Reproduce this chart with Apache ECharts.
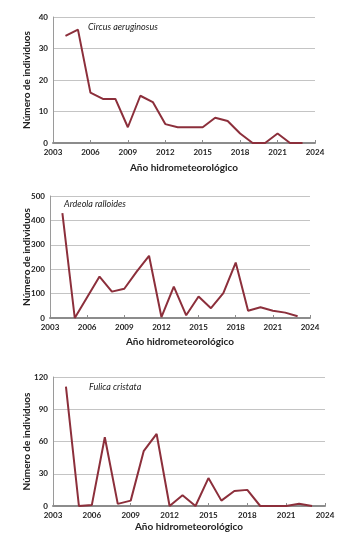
<!DOCTYPE html>
<html><head><meta charset="utf-8">
<script src="https://cdn.jsdelivr.net/npm/echarts@6/dist/echarts.min.js"></script>
<style>html,body{margin:0;padding:0;background:#fff}#c{width:338px;height:538px}</style>
</head><body><div id="c"></div>
<script>
const years = [2004,2005,2006,2007,2008,2009,2010,2011,2012,2013,2014,2015,2016,2017,2018,2019,2020,2021,2022,2023];
const xTicks = [2003,2006,2009,2012,2015,2018,2021,2024];
const circus = [34,36,16,14,14,5,15,13,6,5,5,5,8,7,3,0,0,3,0,0];
const ardeola = [430,0,85,170,108,120,190,255,4,129,11,88,40,102,227,30,44,30,22,7];
const fulica = [111,0,1,64,2,5,51,67,0,10,0,26,5,14,15,0,0,0,2,0];
const species = ['Circus aeruginosus','Ardeola ralloides','Fulica cristata'];
const yMax = [40,500,120];
const yStep = [10,100,30];
const xTitle = 'Año hidrometeorológico';
const yTitle = 'Número de individuos';

const grids = [
  {left:53, top:17, width:262, height:126},
  {left:50, top:196, width:260, height:122},
  {left:53, top:377, width:272, height:129}
];
const nameGaps = [20,19,16];
const yNameGaps = [21,18,21];
const series = [circus, ardeola, fulica];
const labelPos = [[88,29],[64,206],[89,389]];
const font = 'Lato';
const opt = {
  animation:false,
  grid: grids,
  xAxis: grids.map((g,i)=>({
    type:'value', gridIndex:i, min:2003, max:2024, interval:3,
    axisLine:{lineStyle:{color:'#8c8c8c', width:2}},
    axisTick:{show:true, inside:true, length:3, lineStyle:{color:'#8c8c8c'}},
    splitLine:{show:false},
    axisLabel:{color:'#222', fontSize:8, fontFamily:font, fontWeight:'bold', margin:5,
      formatter: v => String(v)},
    name:xTitle, nameLocation:'middle', nameGap:nameGaps[i], nameMoveOverlap:false,
    nameTextStyle:{color:'#222', fontSize:10, fontFamily:font, fontWeight:'bold'}
  })),
  yAxis: grids.map((g,i)=>({
    type:'value', gridIndex:i, min:0, max:yMax[i], interval:yStep[i],
    axisLine:{show:true, lineStyle:{color:'#9a9a9a', width:1}},
    axisTick:{show:false},
    splitLine:{show:true, lineStyle:{color:'#c4c4c4', width:1}},
    axisLabel:{color:'#222', fontSize:8, fontFamily:font, fontWeight:'bold', margin:5},
    name:yTitle, nameLocation:'middle', nameGap:yNameGaps[i], nameMoveOverlap:false,
    nameTextStyle:{color:'#222', fontSize:10, fontFamily:font, fontWeight:'bold'}
  })),
  series: series.map((d,i)=>({
    type:'line', xAxisIndex:i, yAxisIndex:i, symbol:'none',
    data: years.map((y,k)=>[y,d[k]]),
    lineStyle:{color:'#8c2f3b', width:2}, z:5
  })),
  graphic: species.map((s,i)=>({
    type:'text', left:labelPos[i][0], top:labelPos[i][1]-6,
    style:{text:s, fill:'#222', font:'italic 9px '+font}
  }))
};
const ch = echarts.init(document.getElementById('c'));
ch.setOption(opt);
</script></body></html>
